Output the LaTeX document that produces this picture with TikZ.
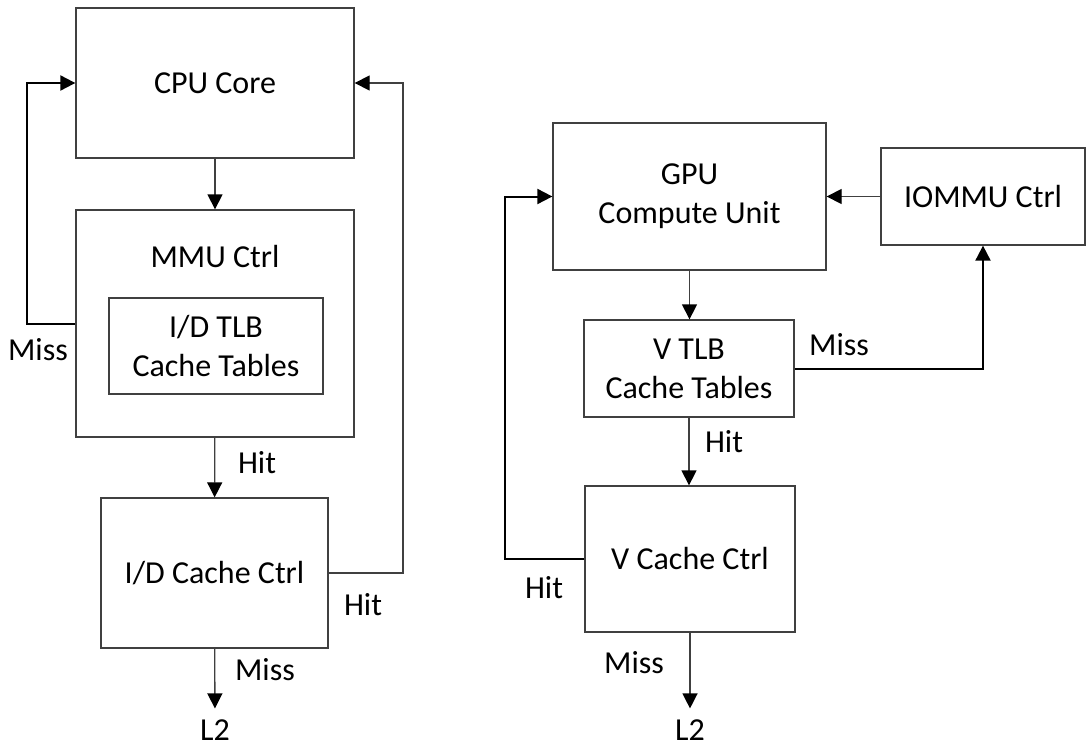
\documentclass[tikz,border=0pt]{standalone}
\usepackage{fontspec}
\setmainfont{Carlito}
\usetikzlibrary{arrows.meta}
\tikzstyle{block}=[draw=black!75, line width=1.3pt, inner sep=0pt, align=center]
\tikzstyle{lbl}=[inner sep=0pt]
\tikzstyle{link}=[draw=black!75, line width=1.3pt, -{Triangle[length=15pt,width=15pt,color=black]}]
\tikzstyle{boldlink}=[draw=black, line width=2pt, -{Triangle[length=15pt,width=15pt,color=black]}]

\begin{document}
\begin{tikzpicture}[x=1pt, y=-1pt, font=\fontsize{32}{39}\selectfont]
\useasboundingbox (0,0) rectangle (1086,749);
% CPU side
    \node[block, minimum width=278pt, minimum height=150pt] (cpu) at (215,83) {CPU Core};
    \node[block, minimum width=278pt, minimum height=227pt] (mmu) at (215,323.5) {};
    \node[lbl] (mmulbl) at (215,257) {MMU Ctrl};
    \node[block, minimum width=214pt, minimum height=96pt] (tlb) at (216,346) {I/D TLB\\Cache Tables};
    \node[block, minimum width=227pt, minimum height=150pt] (idc) at (214.5,573) {I/D Cache Ctrl};
    \node[lbl] (cpul2) at (215,730) {L2};
% GPU side
    \node[block, minimum width=273pt, minimum height=147pt] (gpu) at (689.5,196.5) {GPU\\Compute Unit};
    \node[block, minimum width=204pt, minimum height=97pt] (iommu) at (983,196.5) {IOMMU Ctrl};
    \node[block, minimum width=210pt, minimum height=97pt] (vtlb) at (689,368.5) {V TLB\\Cache Tables};
    \node[block, minimum width=210pt, minimum height=146pt] (vcc) at (690,559) {V Cache Ctrl};
    \node[lbl] (gpul2) at (690,730) {L2};
% Labels
    \node[lbl] (cpumiss) at (38,350) {Miss};
    \node[lbl] (mmuhit) at (257,463) {Hit};
    \node[lbl] (idchit) at (363,605) {Hit};
    \node[lbl] (idcmiss) at (265,670) {Miss};
    \node[lbl] (vtlbmiss) at (839,345) {Miss};
    \node[lbl] (vtlbhit) at (724,442) {Hit};
    \node[lbl] (vcchit) at (544,588) {Hit};
    \node[lbl] (vccmiss) at (634,663) {Miss};
% CPU paths
    \draw[link] (cpu) -- (mmu);
    \draw[link] (mmu) -- (idc);
    \draw[link, shorten >=11pt] (idc) -- (cpul2);
    \draw[boldlink] (mmu.west) -- (27,323.5) |- (cpu.west);
    \draw[link] (idc.east) -- (403,573) |- (cpu.east);
% GPU paths
    \draw[link] (gpu.south) -- (gpu.south |- vtlb.north);
    \draw[link] (vtlb.south) -- (vtlb.south |- vcc.north);
    \draw[link, shorten >=11pt] (vcc) -- (gpul2);
    \draw[link] (iommu) -- (gpu);
    \draw[boldlink] (vtlb.east) -| (iommu.south);
    \draw[boldlink] (vcc.west) -- (505,559) |- (gpu.west);
\end{tikzpicture}
\end{document}
